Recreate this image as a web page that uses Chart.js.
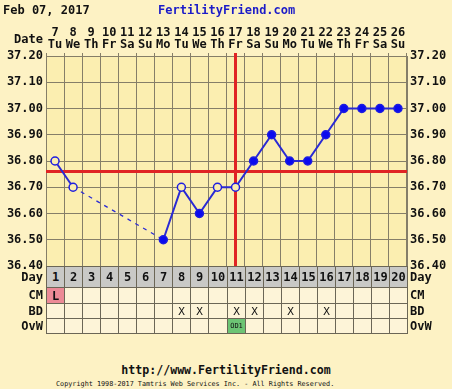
<!DOCTYPE html>
<html><head><meta charset="utf-8">
<script src="https://cdn.jsdelivr.net/npm/chart.js@4/dist/chart.umd.min.js"></script>
<style>
html,body{margin:0;padding:0;background:#fdf2c4;width:452px;height:389px;overflow:hidden;}
body{position:relative;font-family:"DejaVu Sans Mono",monospace;font-weight:bold;color:#111;}
.t{position:absolute;white-space:nowrap;line-height:1;}
#wrap{position:absolute;left:0;top:0;width:452px;height:276px;}
.cell{position:absolute;box-sizing:border-box;border-left:1px solid #6b6656;border-top:1px solid #6b6656;text-align:center;line-height:1;display:flex;align-items:center;justify-content:center;}
</style></head>
<body>
<div id="wrap"><canvas id="c"></canvas></div>
<div class="t" style="left:3px;top:4px;font-size:12px;">Feb 07, 2017</div>
<div class="t" style="left:158px;top:4px;font-size:12px;color:#1c1cc8;">FertilityFriend.com</div>
<div class="t" style="right:409px;top:33px;font-size:12px;">Date</div>
<div id="table"></div>
<div class="t" style="left:0;width:452px;text-align:center;top:365px;font-size:11.6px;">http://www.FertilityFriend.com</div>
<div class="t" style="left:56px;top:381px;font-size:6.8px;font-weight:normal;">Copyright 1998-2017 Tamtris Web Services Inc. - All Rights Reserved.</div>
<script>
// ---- data ----
const dates = [7,8,9,10,11,12,13,14,15,16,17,18,19,20,21,22,23,24,25,26];
const weekdays = ['Tu','We','Th','Fr','Sa','Su','Mo','Tu','We','Th','Fr','Sa','Su','Mo','Tu','We','Th','Fr','Sa','Su'];
const cycleDays = [1,2,3,4,5,6,7,8,9,10,11,12,13,14,15,16,17,18,19,20];
const temps = [36.80,36.70,null,null,null,null,36.50,36.70,36.60,36.70,36.70,36.80,36.90,36.80,36.80,36.90,37.00,37.00,37.00,37.00];
const openPoint = [true,true,false,false,false,false,false,true,false,true,true,false,false,false,false,false,false,false,false,false];
const coverLine = 36.76;
const ovulationDay = 11;
const cmRow = ['L','','','','','','','','','','','','','','','','','','',''];
const bdRow = ['','','','','','','','X','X','','X','X','','X','','X','','','',''];
const ovwRow = ['','','','','','','','','','','OD1','','','','','','','','',''];
const yMin = 36.40, yMax = 37.20;

const plotBg = '#fbeeb0';
const gridCol = '#857e68';
const font12 = {family:'"DejaVu Sans Mono", monospace', size:12, weight:'bold', lineHeight:1.0};

const bgPlugin = {
  id:'bgp',
  beforeDraw(chart){
    const {ctx, chartArea:a} = chart;
    ctx.save(); ctx.fillStyle = plotBg; ctx.fillRect(a.left, a.top, a.right-a.left, a.bottom-a.top); ctx.restore();
  },
  beforeDatasetsDraw(chart){
    const {ctx, chartArea:a, scales} = chart;
    ctx.save();
    ctx.strokeStyle = '#e02424'; ctx.lineWidth = 3;
    const y = scales.y.getPixelForValue(coverLine);
    ctx.beginPath(); ctx.moveTo(a.left, y); ctx.lineTo(a.right, y); ctx.stroke();
    const x = scales.x.getPixelForValue(ovulationDay-1);
    ctx.beginPath(); ctx.moveTo(x, a.top-3); ctx.lineTo(x, a.bottom); ctx.stroke();
    ctx.restore();
  }
};

const skipped = (ctx, v) => (ctx.p0.skip || ctx.p1.skip) ? v : undefined;

const chart = new Chart(document.getElementById('c'), {
  type:'line',
  data:{
    labels: dates.map((d,i)=>[String(d), weekdays[i]]),
    datasets:[{
      data: temps,
      borderColor:'#2a2ad4',
      borderWidth:2,
      spanGaps:true,
      tension:0,
      pointRadius:4,
      pointHoverRadius:4,
      pointBorderWidth:1.5,
      pointBorderColor:'#1e1ee0',
      pointBackgroundColor: openPoint.map(o=>o?plotBg:'#0a0aee'),
      segment:{
        borderDash: ctx => skipped(ctx,[4,5]),
        borderWidth: ctx => skipped(ctx,1.3)
      }
    }]
  },
  options:{
    responsive:true, maintainAspectRatio:false, animation:false,
    layout:{padding:{top:0,left:0,right:0,bottom:10}},
    plugins:{legend:{display:false}, tooltip:{enabled:false}},
    scales:{
      x:{
        position:'top', offset:true,
        grid:{color:gridCol, offset:true, tickLength:3, lineWidth:1},
        border:{color:gridCol},
        ticks:{font:font12, color:'#111', padding:2, maxRotation:0, autoSkip:false},
        afterFit(s){ s.height = 56; }
      },
      y:{
        position:'left', min:yMin, max:yMax,
        grid:{color:gridCol, drawTicks:false, lineWidth:1},
        border:{color:gridCol},
        ticks:{stepSize:0.05, font:font12, color:'#111', padding:3,
          callback:v => Math.round(v*100)%10===0 ? v.toFixed(2) : ''},
        afterFit(s){ s.width = 46; }
      },
      y2:{
        position:'right', min:yMin, max:yMax,
        grid:{drawOnChartArea:false, drawTicks:false},
        border:{color:gridCol},
        ticks:{stepSize:0.05, font:font12, color:'#111', padding:3,
          callback:v => Math.round(v*100)%10===0 ? v.toFixed(2) : ''},
        afterFit(s){ s.width = 45; }
      }
    }
  },
  plugins:[bgPlugin]
});

// ---- table below the chart, aligned with the x scale ----
(function(){
  const xs = chart.scales.x, a = chart.chartArea;
  const tbl = document.getElementById('table');
  const rowTops = [266, 287, 303, 318, 334];
  const rows = [
    {label:'Day', vals:cycleDays.map(String), bg:()=> '#c9c9c6', size:12, weight:'bold'},
    {label:'CM', vals:cmRow, bg:v=> v ? '#ec8a96' : '#fdf4d8', size:12, weight:'bold'},
    {label:'BD', vals:bdRow, bg:()=> '#fdf4d8', size:11, weight:'normal'},
    {label:'OvW', vals:ovwRow, bg:v=> v ? '#6cc474' : '#fdf4d8', size:7, weight:'normal'}
  ];
  const half = (xs.getPixelForValue(1) - xs.getPixelForValue(0))/2;
  rows.forEach((r, ri)=>{
    const top = rowTops[ri], h = rowTops[ri+1]-rowTops[ri];
    r.vals.forEach((v, i)=>{
      const l = Math.round(xs.getPixelForValue(i) - half);
      const rr = Math.round(xs.getPixelForValue(i) + half);
      const d = document.createElement('div');
      d.className = 'cell';
      d.style.cssText = `left:${l}px;top:${top}px;width:${rr-l}px;height:${h}px;background:${r.bg(v)};font-size:${r.size}px;font-weight:${r.weight};`;
      d.textContent = v;
      tbl.appendChild(d);
    });
    const cy = top + h/2;
    const L = document.createElement('div');
    L.className='t'; L.style.cssText=`right:${452-43}px;top:${cy-6}px;font-size:12px;`; L.textContent=r.label; tbl.appendChild(L);
    const R = document.createElement('div');
    R.className='t'; R.style.cssText=`left:410px;top:${cy-6}px;font-size:12px;`; R.textContent=r.label; tbl.appendChild(R);
  });
  const l0 = Math.round(a.left), r0 = Math.round(a.right);
  const rb = document.createElement('div');
  rb.style.cssText = `position:absolute;left:${r0}px;top:266px;width:1px;height:${334-266}px;background:#6b6656;`;
  tbl.appendChild(rb);
  const bb = document.createElement('div');
  bb.style.cssText = `position:absolute;left:${l0}px;top:333px;width:${r0-l0+1}px;height:1px;background:#6b6656;`;
  tbl.appendChild(bb);
})();
</script>
</body></html>
